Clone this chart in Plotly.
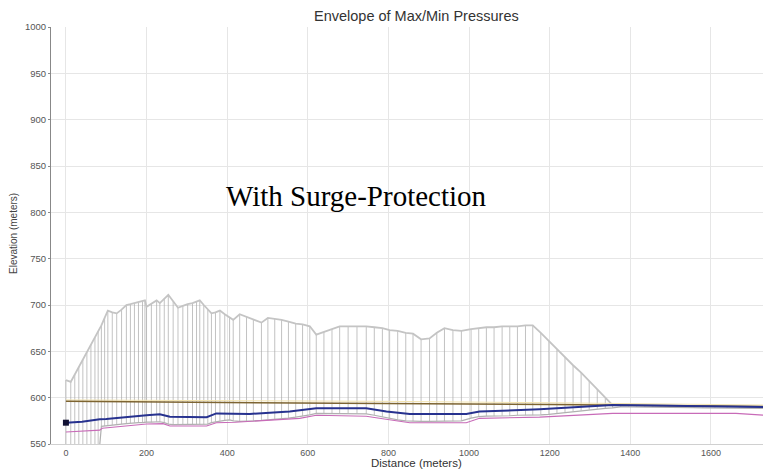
import plotly.graph_objects as go

# ---- data ----
node_x = [0, 12, 22, 32, 42, 52, 62, 72, 80, 88, 96, 104, 115, 126, 138, 150, 160, 170, 180, 190,
          196, 200, 212, 225, 233, 244, 254, 266, 278, 290, 302, 314, 324, 332, 342, 352, 361, 371,
          382, 394, 406, 415, 431, 448, 465, 485, 501, 518, 535, 552, 570, 587, 605, 621, 640, 660,
          679, 700, 722, 745, 765, 785, 803, 823, 843, 861, 881, 902, 920, 939, 960, 981, 1005, 1024,
          1043, 1062, 1082, 1101, 1120, 1140, 1158, 1178, 1198, 1218, 1238, 1258, 1278, 1298, 1318,
          1338, 1356, 1376, 1396, 1416, 1436, 1456, 1476, 1496, 1516, 1536, 1556, 1580, 1610, 1640,
          1670, 1700, 1737]
max_head = [619, 617, 625, 633, 641, 649, 657, 665, 672, 678, 686, 694, 692, 691, 695, 700, 701, 702, 703, 704,
            705, 698, 701, 705, 702, 707, 711, 704, 697, 699, 701, 702, 704, 705, 700, 695, 691, 692,
            694, 690, 687, 684, 690, 687, 684, 681, 686, 685, 684, 682, 680, 679, 677, 668, 671, 674,
            677, 677, 677, 677, 676, 675, 673, 672, 670, 669, 663, 664, 670, 675, 673, 672, 674, 675,
            676, 676, 677, 677, 677, 678, 678, 670, 661, 652, 644, 635, 627, 618, 609,
            600, 592, 592, 592, 592, 592, 591.8, 591.8, 591.6, 591.6, 591.4, 591.2, 591, 590.8, 590.6,
            590.4, 590.2, 590]
min_head = [530, 530, 530, 530, 530, 530, 530, 530, 530, 569, 569.5, 570, 570.5, 571, 571.5, 572, 572.5, 573, 573, 573,
            573.5, 573.5, 573.5, 574, 574, 573, 571.5, 571, 571, 571, 571, 571, 571, 571, 571, 571.5, 573, 574,
            575, 575.5, 576, 575, 574.5, 574.5, 575, 575.5, 576, 576.5, 577, 578, 579, 580, 581.5, 583, 583, 583,
            583, 583, 583, 582.5, 581, 579, 577.5, 576, 575, 574.5, 574.5, 574.5, 574.5, 574.5, 574.5, 575, 578, 579.5,
            580, 580, 580.5, 580.5, 581, 581, 581, 581.5, 582, 583, 584, 585, 586, 587, 588,
            588.5, 589, 590, 590, 590, 590, 589.8, 589.8, 589.6, 589.6, 589.4, 589.2, 589, 589, 589,
            588.8, 588.6, 588.5]

hgl_x = [0, 400, 800, 1200, 1737]
hgl_y = [596, 595, 594, 592.5, 590.5]

yel_x = [0, 400, 800, 1200, 1737]
yel_y = [597.5, 597, 596, 594.5, 592]

blue_x = [0, 40, 84, 100, 200, 233, 258, 349, 373, 456, 555, 621, 745, 795, 853, 993, 1026, 1175, 1356, 1737]
blue_y = [573, 574, 576.6, 577, 581, 582, 579.5, 579, 583, 582.4, 585, 588.5, 588.5, 585, 582.4, 582.4, 585, 587.4, 592, 590]

pink_x = [0, 84, 90, 200, 241, 258, 349, 373, 420, 580, 621, 745, 790, 853, 993, 1026, 1175, 1356, 1662, 1737]
pink_y = [563, 565, 567, 571.6, 572, 569.4, 569.4, 573, 573.5, 577.7, 581, 580, 577, 573, 573, 577.7, 579, 583, 583, 581]

x_ticks = [0, 200, 400, 600, 800, 1000, 1200, 1400, 1600]
y_ticks = [550, 600, 650, 700, 750, 800, 850, 900, 950, 1000]

# ---- figure ----
vx, vy = [], []
for x, lo, hi in zip(node_x, min_head, max_head):
    vx += [x, x, None]
    vy += [lo, hi, None]

fig = go.Figure()
fig.add_trace(go.Scatter(x=vx, y=vy, mode="lines", line=dict(color="#a8a8a8", width=0.7),
                         hoverinfo="skip", showlegend=False))
fig.add_trace(go.Scatter(x=node_x, y=min_head, mode="lines", line=dict(color="#b0b0b0", width=1.2),
                         showlegend=False))
fig.add_trace(go.Scatter(x=node_x, y=max_head, mode="lines", line=dict(color="#c4c4c4", width=1.8),
                         showlegend=False))
fig.add_trace(go.Scatter(x=yel_x, y=yel_y, mode="lines", line=dict(color="#f3e4b0", width=1),
                         showlegend=False))
fig.add_trace(go.Scatter(x=hgl_x, y=hgl_y, mode="lines", line=dict(color="#7d6431", width=1.5),
                         showlegend=False))
fig.add_trace(go.Scatter(x=pink_x, y=pink_y, mode="lines", line=dict(color="#c86bb8", width=1.1),
                         showlegend=False))
fig.add_trace(go.Scatter(x=blue_x, y=blue_y, mode="lines", line=dict(color="#27328f", width=2),
                         showlegend=False))
fig.add_trace(go.Scatter(x=[blue_x[0], blue_x[-1]], y=[blue_y[0], blue_y[-1]], mode="markers",
                         marker=dict(color=["#111133", "#27328f"], size=6, symbol="square"),
                         showlegend=False))

font = "Liberation Sans, Arial, sans-serif"
# The page places the figure 8px in from the top-left corner, so offsets are compensated.
fig.update_layout(
    width=763, height=461,
    margin=dict(l=43, r=0, t=19, b=25),
    paper_bgcolor="white", plot_bgcolor="white",
    font=dict(family=font, size=9, color="#555555"),
    xaxis=dict(range=[-37, 1749], tickvals=x_ticks, showgrid=True, gridcolor="#e6e6e6", gridwidth=1,
               zeroline=False, showline=True, linecolor="#d0d0d0", ticks="",
               tickfont=dict(size=9, color="#555555")),
    yaxis=dict(range=[550, 1000], tickvals=y_ticks, showgrid=True, gridcolor="#e6e6e6", gridwidth=1,
               zeroline=False, showline=True, linecolor="#888888", ticks="outside", ticklen=2,
               tickcolor="#888888", tickfont=dict(size=9.5, color="#555555")),
    annotations=[
        dict(text="Envelope of Max/Min Pressures", xref="paper", yref="paper", x=(416 - 51) / 720,
             y=(444 - 16) / 417, yanchor="middle", xanchor="center", showarrow=False,
             font=dict(size=14.5, color="#333333", family=font)),
        dict(text="Distance (meters)", xref="paper", yref="paper", x=(416 - 51) / 720,
             y=-(463.5 - 444) / 417, yanchor="middle", xanchor="center", showarrow=False,
             font=dict(size=11.5, color="#333333", family=font)),
        dict(text="Elevation (meters)", xref="paper", yref="paper", x=-(51 - 13) / 720,
             y=(444 - 234) / 417, yanchor="middle", xanchor="center", textangle=-90, showarrow=False,
             font=dict(size=10, color="#444444", family=font)),
        dict(text="With Surge-Protection", xref="paper", yref="paper", x=(356 - 51) / 720,
             y=(444 - 196) / 417, yanchor="middle", xanchor="center", showarrow=False,
             font=dict(size=29, color="#000000", family="Liberation Serif, Times New Roman, serif")),
    ],
)
fig.write_html("out.html")
